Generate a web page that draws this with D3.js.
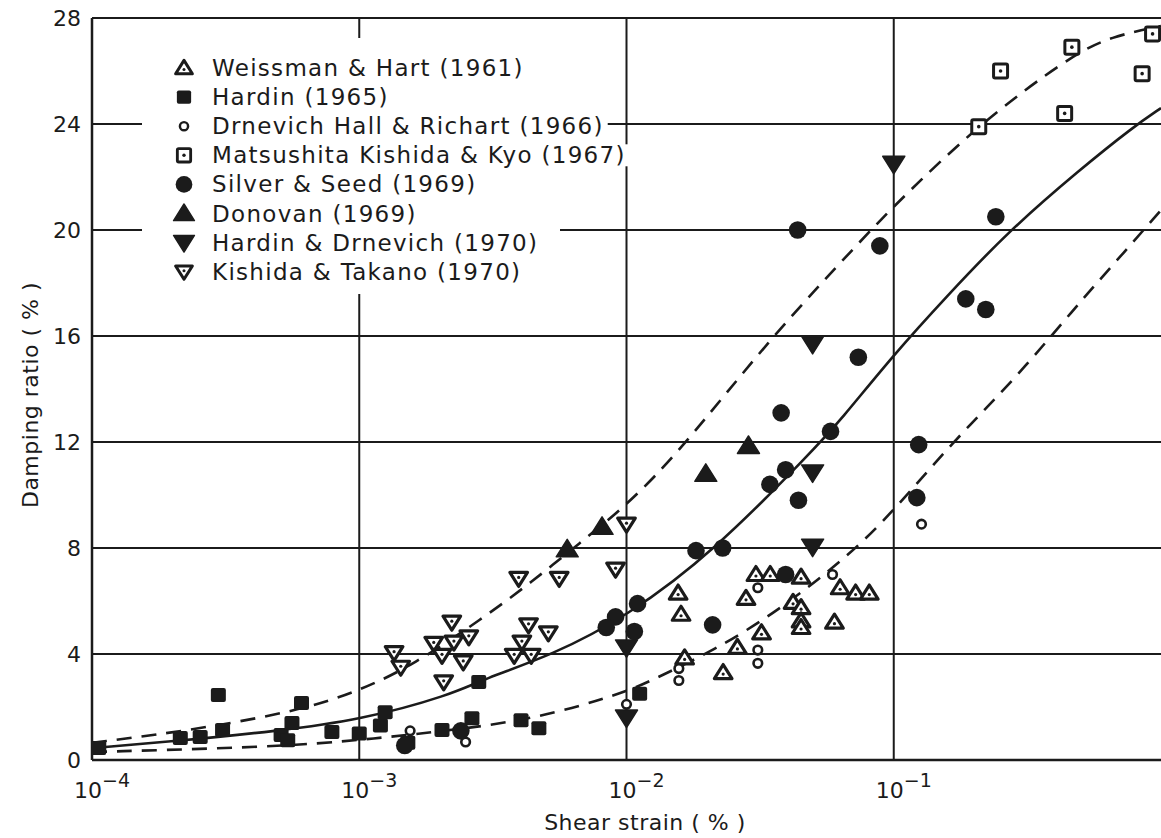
<!DOCTYPE html>
<html>
<head>
<meta charset="utf-8">
<script src="https://cdn.jsdelivr.net/npm/d3@7"></script>
<style>
  html, body { margin: 0; padding: 0; background: #fff; }
  svg { display: block; }
  text { font-family: "DejaVu Sans", "Noto Sans", sans-serif; fill: #1b1b1b; }
</style>
</head>
<body>
<svg id="chart" width="1161" height="838"></svg>
<script>
// ---- data: [shear strain (%), damping ratio (%)] ----
const weissmanHart1961 = [
  [1.56e-2, 6.3], [1.6e-2, 5.5], [1.65e-2, 3.85], [2.3e-2, 3.3], [2.6e-2, 4.25],
  [2.8e-2, 6.1], [3.05e-2, 7.0], [3.45e-2, 7.0], [3.2e-2, 4.8], [4.2e-2, 5.95],
  [4.5e-2, 6.9], [4.5e-2, 5.75], [4.5e-2, 5.25], [4.5e-2, 5.0], [6.3e-2, 6.5],
  [6.0e-2, 5.2], [7.2e-2, 6.3], [8.1e-2, 6.3]
];
const hardin1965 = [
  [1.06e-4, 0.45], [2.14e-4, 0.83], [2.54e-4, 0.87], [3.08e-4, 1.13], [2.97e-4, 2.45],
  [5.1e-4, 0.94], [5.6e-4, 1.4], [5.4e-4, 0.75], [6.08e-4, 2.15], [7.9e-4, 1.06],
  [1.0e-3, 1.0], [1.2e-3, 1.3], [1.25e-3, 1.8], [1.52e-3, 0.65], [2.04e-3, 1.13],
  [2.64e-3, 1.58], [2.8e-3, 2.94], [4.03e-3, 1.5], [4.7e-3, 1.2], [1.12e-2, 2.5]
];
const drnevichHallRichart1966 = [
  [1.55e-3, 1.1], [2.5e-3, 0.68], [1.0e-2, 2.1], [1.57e-2, 3.0], [1.57e-2, 3.45],
  [3.1e-2, 3.65], [3.1e-2, 4.15], [3.1e-2, 6.5], [5.9e-2, 7.0], [0.127, 8.9]
];
const matsushitaKishidaKyo1967 = [
  [0.208, 23.9], [0.251, 26.0], [0.436, 24.4], [0.464, 26.9], [0.85, 25.9], [0.93, 27.4]
];
const silverSeed1969 = [
  [4.37e-2, 20.0], [8.87e-2, 19.4], [7.37e-2, 15.2], [3.79e-2, 13.1], [5.8e-2, 12.4],
  [0.124, 11.9], [3.94e-2, 10.95], [3.44e-2, 10.4], [4.4e-2, 9.8], [0.122, 9.9],
  [1.82e-2, 7.9], [2.29e-2, 8.0], [0.186, 17.4], [0.221, 17.0], [0.241, 20.5],
  [3.94e-2, 7.0], [1.1e-2, 5.9], [9.1e-3, 5.4], [8.4e-3, 5.0], [1.07e-2, 4.85],
  [2.1e-2, 5.1], [2.4e-3, 1.1], [1.48e-3, 0.55]
];
const donovan1969 = [
  [2.86e-2, 11.85], [1.98e-2, 10.8], [8.1e-3, 8.8], [6.0e-3, 7.95]
];
const hardinDrnevich1970 = [
  [0.1, 22.5], [4.97e-2, 15.7], [4.97e-2, 10.85], [4.97e-2, 8.05], [1.0e-2, 4.25], [1.0e-2, 1.6]
];
const kishidaTakano1970 = [
  [1.35e-3, 4.05], [1.43e-3, 3.5], [1.9e-3, 4.4], [2.04e-3, 3.95], [2.07e-3, 2.95],
  [2.22e-3, 5.2], [2.26e-3, 4.45], [2.45e-3, 3.7], [2.57e-3, 4.65], [3.8e-3, 3.95],
  [3.95e-3, 6.85], [4.06e-3, 4.45], [4.3e-3, 5.1], [4.4e-3, 3.95], [5.1e-3, 4.8],
  [5.6e-3, 6.85], [9.1e-3, 7.2], [1.0e-2, 8.9]
];

// ---- average curve and bounds ----
const averageCurve = [
  [1e-4, 0.45], [2e-4, 0.7], [5e-4, 1.1], [1e-3, 1.5], [2.2e-3, 2.45], [2.9e-3, 3.05],
  [5.25e-3, 3.95], [1e-2, 5.4], [2.14e-2, 7.9], [5e-2, 11.7], [6.3e-2, 12.8],
  [0.1, 15.3], [0.158, 17.5], [0.265, 19.9], [0.5, 22.3], [0.79, 23.9], [1.0, 24.6]
];
const upperBound = [
  [1e-4, 0.65], [2.1e-4, 1.05], [5.7e-4, 1.8], [1e-3, 2.6], [1.6e-3, 3.6], [2.9e-3, 5.35],
  [4.4e-3, 6.7], [6.7e-3, 8.2], [1e-2, 9.6], [1.6e-2, 11.7], [3.4e-2, 15.85],
  [7.7e-2, 19.7], [0.1, 20.9], [0.208, 24.0], [0.464, 26.6], [0.65, 27.3], [1.0, 27.7]
];
const lowerBound = [
  [1e-4, 0.3], [5e-4, 0.5], [1e-3, 0.75], [1.9e-3, 1.05], [4.4e-3, 1.5], [9.6e-3, 2.5],
  [1.24e-2, 3.0], [2.14e-2, 4.15], [3.6e-2, 5.55], [6.7e-2, 7.65], [0.1, 9.4],
  [0.166, 12.0], [0.28, 14.3], [0.48, 17.1], [0.65, 18.6], [1.0, 20.75]
];

// ---- axes ----
const xTicks = [1e-4, 1e-3, 1e-2, 1e-1];
const xTickExponents = ["\u22124", "\u22123", "\u22122", "\u22121"];
const yTicks = [0, 4, 8, 12, 16, 20, 24, 28];
const xTitle = "Shear strain ( % )";
const yTitle = "Damping ratio ( % )";

const legendLabels = [
  "Weissman & Hart (1961)",
  "Hardin (1965)",
  "Drnevich Hall & Richart (1966)",
  "Matsushita Kishida & Kyo (1967)",
  "Silver & Seed (1969)",
  "Donovan (1969)",
  "Hardin & Drnevich (1970)",
  "Kishida & Takano (1970)"
];
const seriesData = [
  weissmanHart1961, hardin1965, drnevichHallRichart1966, matsushitaKishidaKyo1967,
  silverSeed1969, donovan1969, hardinDrnevich1970, kishidaTakano1970
];
const seriesShapes = [
  "openTriUp", "filledSquare", "smallCircle", "openSquare",
  "filledCircle", "filledTriUp", "filledTriDown", "openTriDown"
];

const INK = "#1b1b1b";
const svg = d3.select("#chart");

const x = d3.scaleLog().domain([1e-4, 1]).range([92, 1161]);
const y = d3.scaleLinear().domain([0, 28]).range([760, 18]);

// grid lines
const grid = svg.append("g").attr("stroke", INK).attr("stroke-width", 2);
grid.selectAll("line.h").data(yTicks.filter(v => v > 0 && v < 28)).join("line")
  .attr("x1", x(1e-4)).attr("x2", 1161)
  .attr("y1", d => y(d)).attr("y2", d => y(d));
grid.selectAll("line.v").data(xTicks.slice(1)).join("line")
  .attr("x1", d => x(d)).attr("x2", d => x(d))
  .attr("y1", y(28)).attr("y2", y(0));

// frame: top, left, bottom
grid.append("line").attr("x1", x(1e-4)).attr("x2", 1161).attr("y1", y(28)).attr("y2", y(28));
grid.append("line").attr("x1", x(1e-4)).attr("x2", x(1e-4)).attr("y1", y(28)).attr("y2", y(0)).attr("stroke-width", 2.5);
grid.append("line").attr("x1", x(1e-4)).attr("x2", 1161).attr("y1", y(0)).attr("y2", y(0)).attr("stroke-width", 2.5);

// y tick labels
svg.append("g").selectAll("text").data(yTicks).join("text")
  .attr("x", 81).attr("y", d => y(d) + 8)
  .attr("text-anchor", "end").attr("font-size", 22)
  .text(d => d);

// x tick labels: 10 with superscript exponent
const xl = svg.append("g").selectAll("text").data(xTicks).join("text")
  .attr("x", d => x(d) - 18).attr("y", 798)
  .attr("font-size", 22);
xl.append("tspan").text("10");
xl.append("tspan").attr("dy", -11).attr("font-size", 19).text((d, i) => xTickExponents[i]);

// axis titles
svg.append("text").attr("x", 645).attr("y", 830).attr("text-anchor", "middle")
  .attr("font-size", 22).attr("letter-spacing", 0.5).text(xTitle);
svg.append("text").attr("transform", "translate(38,395) rotate(-90)")
  .attr("text-anchor", "middle").attr("font-size", 22).attr("letter-spacing", 0.5).text(yTitle);

// fit curves (smoothed through the read-off points)
const line = d3.line().x(d => x(d[0])).y(d => y(d[1])).curve(d3.curveBasis);
const curves = svg.append("g").attr("fill", "none").attr("stroke", INK).attr("stroke-width", 2.6);
curves.append("path").attr("d", line(averageCurve));
curves.append("path").attr("d", line(upperBound)).attr("stroke-dasharray", "15 10");
curves.append("path").attr("d", line(lowerBound)).attr("stroke-dasharray", "15 10");

// marker shapes
function triPath(r, down) {
  const s = down ? -1 : 1;
  return `M0,${-r * s}L${r * 1.1},${r * 0.75 * s}L${-r * 1.1},${r * 0.75 * s}Z`;
}
function drawMarker(g, shape) {
  switch (shape) {
    case "openTriUp":
    case "openTriDown": {
      const down = shape === "openTriDown";
      g.append("path").attr("d", triPath(8, down))
        .attr("fill", "#fff").attr("stroke", INK).attr("stroke-width", 3.2).attr("stroke-linejoin", "round");
      g.append("circle").attr("cx", 0).attr("cy", down ? -1 : 1.5).attr("r", 1.6).attr("fill", INK);
      break;
    }
    case "filledSquare":
      g.append("rect").attr("x", -7.5).attr("y", -7).attr("width", 15).attr("height", 14)
        .attr("rx", 2).attr("fill", INK);
      break;
    case "smallCircle":
      g.append("circle").attr("r", 4.3).attr("fill", "#fff").attr("stroke", INK).attr("stroke-width", 2.6);
      break;
    case "openSquare":
      g.append("rect").attr("x", -7).attr("y", -7).attr("width", 14).attr("height", 14)
        .attr("rx", 1.5).attr("fill", "#fff").attr("stroke", INK).attr("stroke-width", 3);
      g.append("circle").attr("r", 1.8).attr("fill", INK);
      break;
    case "filledCircle":
      g.append("circle").attr("r", 8.8).attr("fill", INK);
      break;
    case "filledTriUp":
      g.append("path").attr("d", triPath(10, false)).attr("fill", INK)
        .attr("stroke", INK).attr("stroke-width", 1.5).attr("stroke-linejoin", "round");
      break;
    case "filledTriDown":
      g.append("path").attr("d", triPath(10, true)).attr("fill", INK)
        .attr("stroke", INK).attr("stroke-width", 1.5).attr("stroke-linejoin", "round");
      break;
  }
}

// data points
const points = svg.append("g");
seriesData.forEach((data, i) => {
  points.append("g").selectAll("g").data(data).join("g")
    .attr("transform", d => `translate(${x(d[0])},${y(d[1])})`)
    .each(function () { drawMarker(d3.select(this), seriesShapes[i]); });
});

// legend with a white panel behind it
const legend = svg.append("g");
legend.append("rect").attr("x", 142).attr("y", 38).attr("width", 418).attr("height", 256).attr("fill", "#fff");
const rowY = i => 68 + i * 29.1;
const rows = legend.selectAll("g.row").data(legendLabels).join("g")
  .attr("transform", (d, i) => `translate(0,${rowY(i)})`);
rows.append("text").attr("x", 212).attr("y", 8).attr("font-size", 23).attr("letter-spacing", 1.3)
  .text(d => d)
  .each(function () {
    const b = this.getBBox();
    d3.select(this.parentNode).insert("rect", "text")
      .attr("x", b.x - 2).attr("y", b.y + 2).attr("width", b.width + 6).attr("height", b.height - 4)
      .attr("fill", "#fff");
  });
rows.each(function (d, i) {
  const g = d3.select(this).append("g").attr("transform", "translate(184,0) scale(0.95)");
  drawMarker(g, seriesShapes[i]);
});
</script>
</body>
</html>
